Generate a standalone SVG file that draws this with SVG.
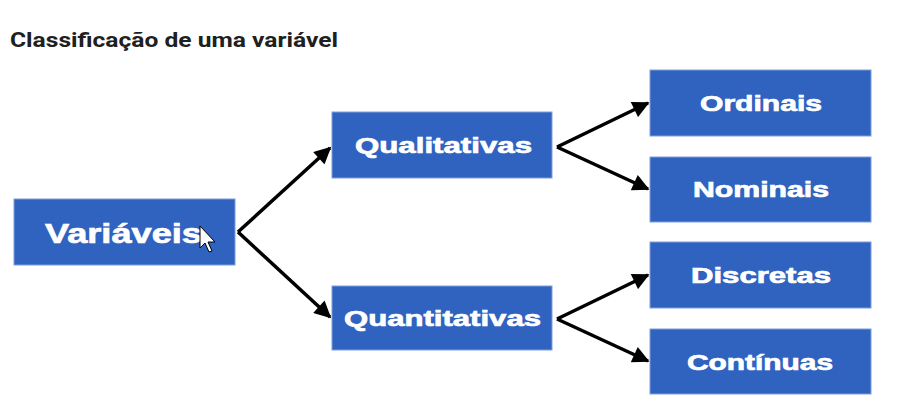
<svg xmlns="http://www.w3.org/2000/svg" width="905" height="419" viewBox="0 0 905 419">
<defs>
<style>
.box{fill:#3063c0;stroke:#7fa0dc;stroke-width:1}
.lbl{font-family:"Liberation Sans",Arial,sans-serif;font-weight:bold;fill:#ffffff;stroke:#ffffff;stroke-width:0.7;text-anchor:start}
.title{font-family:Roboto,"Liberation Sans",sans-serif;font-weight:bold;fill:#202020;font-size:21px}
.conn{stroke:#000;stroke-width:3.5;fill:none;marker-end:url(#ah)}
</style>
<marker id="ah" viewBox="0 0 10 10" refX="9" refY="5" markerWidth="5.2" markerHeight="4.8" orient="auto" markerUnits="strokeWidth">
<path d="M0,0 L10,5 L0,10 z" fill="#000"/>
</marker>
</defs>
<rect width="905" height="419" fill="#ffffff"/>
<text class="title" x="10" y="47" textLength="328" lengthAdjust="spacingAndGlyphs">Classificação de uma variável</text>
<g id="connectors">
<path class="conn" d="M238,232 L330,148"/>
<path class="conn" d="M238,232 L330,317"/>
<path class="conn" d="M557,147 L648,103"/>
<path class="conn" d="M557,147 L648,189"/>
<path class="conn" d="M557,319 L648,275"/>
<path class="conn" d="M557,319 L648,361"/>
</g>
<g id="variaveis">
<rect class="box" x="14" y="199" width="221" height="66"/>
<text class="lbl" x="45" y="243" font-size="28" textLength="157" lengthAdjust="spacingAndGlyphs">Variáveis</text>
</g>
<g id="qualitativas">
<rect class="box" x="332" y="112" width="220" height="66"/>
<text class="lbl" x="355" y="153" font-size="22" textLength="177" lengthAdjust="spacingAndGlyphs">Qualitativas</text>
</g>
<g id="quantitativas">
<rect class="box" x="332" y="286" width="220" height="64"/>
<text class="lbl" x="344" y="326" font-size="22" textLength="197" lengthAdjust="spacingAndGlyphs">Quantitativas</text>
</g>
<g id="ordinais">
<rect class="box" x="650" y="70" width="221" height="66"/>
<text class="lbl" x="700" y="111" font-size="22" textLength="122" lengthAdjust="spacingAndGlyphs">Ordinais</text>
</g>
<g id="nominais">
<rect class="box" x="650" y="157" width="221" height="65"/>
<text class="lbl" x="693" y="197" font-size="22" textLength="136" lengthAdjust="spacingAndGlyphs">Nominais</text>
</g>
<g id="discretas">
<rect class="box" x="650" y="242" width="221" height="66"/>
<text class="lbl" x="691" y="283" font-size="22" textLength="140" lengthAdjust="spacingAndGlyphs">Discretas</text>
</g>
<g id="continuas">
<rect class="box" x="650" y="329" width="221" height="65"/>
<text class="lbl" x="687" y="370" font-size="22" textLength="146" lengthAdjust="spacingAndGlyphs">Contínuas</text>
</g>
<path d="M200,226 L200,248 L205,243 L209,252 L212,251 L208,242 L215,242 Z" fill="#ffffff" stroke="#000" stroke-width="1"/>
</svg>
